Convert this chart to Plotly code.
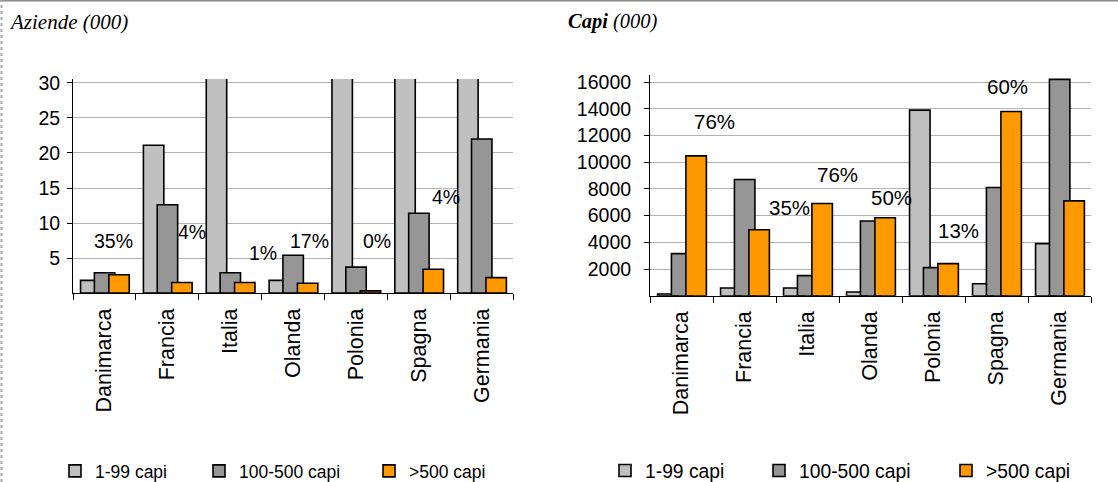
import plotly.graph_objects as go

# Categorie e serie
categories = ["Danimarca", "Francia", "Italia", "Olanda", "Polonia", "Spagna", "Germania"]
series_names = ["1-99 capi", "100-500 capi", ">500 capi"]

# Aziende (000) per classe di capi
aziende_1_99 = [1.8, 21.1, 140, 1.8, 650, 70, 49]
aziende_100_500 = [2.9, 12.6, 2.9, 5.4, 3.7, 11.4, 22.0]
aziende_oltre_500 = [2.6, 1.5, 1.5, 1.4, 0.3, 3.4, 2.2]

# Capi (000) per classe di capi
capi_1_99 = [130, 580, 580, 280, 13900, 900, 3900]
capi_100_500 = [3150, 8700, 1500, 5590, 2100, 8100, 16200]
capi_oltre_500 = [10470, 4940, 6900, 5840, 2400, 13800, 7100]

# Quote percentuali riportate sopra i gruppi
quote_aziende = ["35%", "4%", "1%", "17%", "0%", "4%", "3%"]
quote_capi = ["76%", "35%", "76%", "50%", "13%", "60%", "60%"]

# Tick dell'asse y
tick_aziende = [5, 10, 15, 20, 25, 30]
tick_capi = [2000, 4000, 6000, 8000, 10000, 12000, 14000, 16000]

# ---- layout helpers (pixel -> paper) ----
W, H = 1118, 482


def fx(p):
    return p / W


def fy(p):
    return 1 - p / H


colors = ["#C0C0C0", "#969696", "#FF9900"]
bar_offsets = [-0.38, -0.16, 0.07]
bar_width = 0.325
sans = "Liberation Sans, Arial, sans-serif"
serif = "Liberation Serif, Times New Roman, serif"

# label placement: (category position, y in data units)
pos_quote_aziende = [(0.14, 7.5), (1.40, 8.7), (2.52, 5.7), (3.27, 7.5),
                     (4.34, 7.5), (5.43, 13.7), (6.52, 7.5)]
pos_quote_capi = [(0.52, 13080), (1.72, 6630), (2.48, 9080), (3.33, 7380),
                  (4.39, 4880), (5.17, 15650), (6.58, 10730)]

fig = go.Figure()

panels = [
    ("x", "y", [aziende_1_99, aziende_100_500, aziende_oltre_500], ["legend", "legend2", "legend3"]),
    ("x2", "y2", [capi_1_99, capi_100_500, capi_oltre_500], ["legend4", "legend5", "legend6"]),
]
for xa, ya, values, legends in panels:
    for name, vals, col, off, lg in zip(series_names, values, colors, bar_offsets, legends):
        fig.add_trace(go.Bar(
            x=categories, y=vals, name=name,
            width=bar_width, offset=off,
            marker=dict(color=col, line=dict(color="black", width=1.6)),
            xaxis=xa, yaxis=ya, legend=lg,
        ))

xaxis_common = dict(
    type="category", range=[-0.5, 6.5], tickson="boundaries",
    ticks="outside", ticklen=6, tickcolor="black", tickwidth=1,
    showline=True, linecolor="black", linewidth=1,
    tickangle=-90, ticklabelstandoff=6,
    tickfont=dict(family=sans, size=21.5, color="black"),
    showgrid=False, automargin=False, fixedrange=True,
)
yaxis_common = dict(
    ticks="outside", ticklen=5, tickcolor="black", tickwidth=1,
    showline=True, linecolor="black", linewidth=1,
    showgrid=True, gridcolor="#B4B4B4", gridwidth=1, zeroline=False,
    tickfont=dict(family=sans, size=19.5, color="black"),
    tickformat="d",
    automargin=False, fixedrange=True,
)

annotations = [
    dict(text="<i>Aziende (000)</i>", xref="paper", yref="paper",
         x=fx(7), y=fy(22), xanchor="left", yanchor="middle", showarrow=False,
         font=dict(family=serif, size=21, color="black")),
    dict(text="<i><b>Capi</b> (000)</i>", xref="paper", yref="paper",
         x=fx(566), y=fy(22), xanchor="left", yanchor="middle", showarrow=False,
         font=dict(family=serif, size=20.5, color="black")),
]
for txt, (px, py) in zip(quote_aziende, pos_quote_aziende):
    annotations.append(dict(text=txt, x=px, y=py, xref="x", yref="y", showarrow=False,
                            xanchor="center", yanchor="middle",
                            font=dict(family=sans, size=19.5, color="black")))
for txt, (px, py) in zip(quote_capi, pos_quote_capi):
    annotations.append(dict(text=txt, x=px, y=py, xref="x2", yref="y2", showarrow=False,
                            xanchor="center", yanchor="middle",
                            font=dict(family=sans, size=20.5, color="black")))

# one legend per entry, placed beneath each panel (x = start of entry text)
legend_text_x = [93, 237, 407, 643, 797, 984]
legend_font = [17.5, 17.5, 17.5, 19.3, 19.3, 19.3]
legend_layout = {}
for i, (lx, fs) in enumerate(zip(legend_text_x, legend_font)):
    key = "legend" if i == 0 else f"legend{i + 1}"
    legend_layout[key] = dict(
        x=fx(lx - 38), y=fy(471), xref="paper", yref="paper",
        xanchor="left", yanchor="middle", orientation="h",
        bgcolor="rgba(0,0,0,0)", borderwidth=0,
        font=dict(family=sans, size=fs, color="black"),
    )

fig.update_layout(
    width=W, height=H,
    margin=dict(l=0, r=0, t=0, b=0, autoexpand=False),
    paper_bgcolor="white", plot_bgcolor="white",
    barmode="overlay",
    showlegend=True,
    xaxis=dict(xaxis_common, domain=[fx(73), fx(513)], anchor="y"),
    yaxis=dict(yaxis_common, domain=[fy(293), fy(79)], anchor="x",
               range=[0, 30.57], tickvals=tick_aziende, ticklabelstandoff=3),
    xaxis2=dict(xaxis_common, domain=[fx(650), fx(1091)], anchor="y2"),
    yaxis2=dict(yaxis_common, domain=[fy(295.7), fy(75.4)], anchor="x2",
                range=[0, 16500], tickvals=tick_capi, ticklabelstandoff=9),
    annotations=annotations,
    shapes=[
        dict(type="line", xref="paper", yref="paper", x0=0, x1=1,
             y0=fy(0.7), y1=fy(0.7), line=dict(color="#8A8A8A", width=1.5)),
        dict(type="line", xref="paper", yref="paper", x0=fx(1.5), x1=fx(1.5),
             y0=0, y1=1, line=dict(color="#A8A8A8", width=2, dash="dot")),
    ],
    **legend_layout,
)

fig.write_html("out.html")
